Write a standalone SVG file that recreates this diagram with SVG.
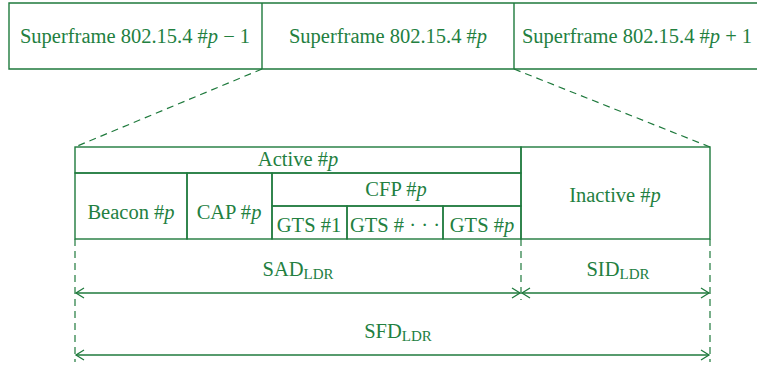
<svg xmlns="http://www.w3.org/2000/svg" width="757" height="366" viewBox="0 0 757 366">
<defs>
<style>
.b{fill:none;stroke:#1f7a3d;stroke-width:1.4}
.d{fill:none;stroke:#1f7a3d;stroke-width:1.2;stroke-dasharray:7,5}
.a{fill:none;stroke:#1f7a3d;stroke-width:1.4}
text{font-family:"Liberation Serif","DejaVu Serif",serif;font-size:20.5px;fill:#23803f;text-anchor:middle}
.i{font-style:italic}
.s{font-size:15px}
</style>
<marker id="ah" viewBox="-10 -6 12 12" markerWidth="12" markerHeight="12" refX="0" refY="0" orient="auto-start-reverse" markerUnits="userSpaceOnUse">
<path d="M-8,-5 L0,0 L-8,5" fill="none" stroke="#1f7a3d" stroke-width="1.3"/>
</marker>
</defs>
<rect width="757" height="366" fill="#fff"/>
<g id="top-row">
<path class="b" d="M757,3 H9 V69 H757 M262,3 V69 M514,3 V69"/>
</g>
<g id="sf-prev"><text x="135" y="43">Superframe 802.15.4 #<tspan class="i">p</tspan> − 1</text></g>
<g id="sf-cur"><text x="388" y="43">Superframe 802.15.4 #<tspan class="i">p</tspan></text></g>
<g id="sf-next"><text x="637" y="43">Superframe 802.15.4 #<tspan class="i">p</tspan> + 1</text></g>
<g id="active"><rect class="b" x="75" y="147" width="446" height="26"/><text x="298" y="166">Active #<tspan class="i">p</tspan></text></g>
<g id="beacon"><rect class="b" x="75" y="173" width="112" height="66"/><text x="131" y="219">Beacon #<tspan class="i">p</tspan></text></g>
<g id="cap"><rect class="b" x="187" y="173" width="85" height="66"/><text x="229" y="219">CAP #<tspan class="i">p</tspan></text></g>
<g id="cfp"><rect class="b" x="272" y="173" width="249" height="33"/><text x="396" y="196">CFP #<tspan class="i">p</tspan></text></g>
<g id="gts1"><rect class="b" x="272" y="206" width="75" height="33"/><text x="309" y="232">GTS #1</text></g>
<g id="gtsdots"><rect class="b" x="347" y="206" width="96" height="33"/><text x="395" y="232">GTS # · · ·</text></g>
<g id="gtsp"><rect class="b" x="443" y="206" width="78" height="33"/><text x="482" y="232">GTS #<tspan class="i">p</tspan></text></g>
<g id="inactive"><rect class="b" x="521" y="147" width="189" height="92"/><text x="615" y="202">Inactive #<tspan class="i">p</tspan></text></g>
<g id="connectors">
<path class="d" d="M262,69 L75,147 M514,69 L710,147"/>
<path class="d" d="M75,239 V362 M521,239 V300 M710,239 V362"/>
<line class="a" x1="76" y1="293" x2="520" y2="293" marker-start="url(#ah)" marker-end="url(#ah)"/>
<line class="a" x1="522" y1="293" x2="709" y2="293" marker-start="url(#ah)" marker-end="url(#ah)"/>
<line class="a" x1="76" y1="355" x2="709" y2="355" marker-start="url(#ah)" marker-end="url(#ah)"/>
</g>
<g id="sad"><text x="298" y="276">SAD<tspan class="s" dy="3">LDR</tspan></text></g>
<g id="sid"><text x="618" y="276">SID<tspan class="s" dy="3">LDR</tspan></text></g>
<g id="sfd"><text x="398" y="338">SFD<tspan class="s" dy="3">LDR</tspan></text></g>
</svg>
